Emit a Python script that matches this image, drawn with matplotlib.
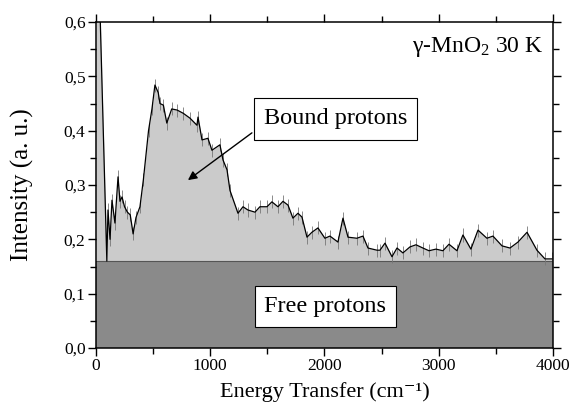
import numpy as np
import matplotlib
matplotlib.use("Agg")
import matplotlib.pyplot as plt
from matplotlib.ticker import MultipleLocator, FuncFormatter

# spectrum (energy in cm-1, intensity in a.u.)
energy = [0, 25, 95, 105, 123, 140, 166, 193, 210, 228, 250, 275, 300, 325, 350, 385, 415,
          460, 490, 516, 545, 560, 590, 620, 663, 710, 764, 823, 884, 893, 928, 980, 1015,
          1085, 1112, 1147, 1173, 1243, 1287, 1330, 1392, 1435, 1497, 1540, 1593, 1637,
          1681, 1724, 1768, 1803, 1847, 1890, 1943, 2004, 2048, 2118, 2162, 2206, 2284,
          2337, 2381, 2460, 2486, 2530, 2591, 2635, 2687, 2748, 2801, 2862, 2915, 2976,
          3037, 3090, 3160, 3212, 3282, 3344, 3422, 3475, 3554, 3624, 3694, 3773, 3860,
          3930, 3990]
intensity = [0.70, 0.70, 0.16, 0.254, 0.20, 0.272, 0.23, 0.315, 0.27, 0.278, 0.26, 0.25,
             0.245, 0.21, 0.24, 0.26, 0.31, 0.40, 0.44, 0.484, 0.47, 0.45, 0.447, 0.414,
             0.44, 0.438, 0.432, 0.423, 0.41, 0.425, 0.383, 0.386, 0.364, 0.374, 0.346,
             0.328, 0.29, 0.248, 0.26, 0.254, 0.25, 0.26, 0.26, 0.269, 0.26, 0.27, 0.263,
             0.239, 0.248, 0.241, 0.204, 0.213, 0.221, 0.202, 0.206, 0.195, 0.239, 0.204,
             0.202, 0.206, 0.184, 0.18, 0.18, 0.193, 0.168, 0.184, 0.175, 0.186, 0.19,
             0.184, 0.179, 0.182, 0.179, 0.191, 0.179, 0.208, 0.182, 0.217, 0.202, 0.206,
             0.188, 0.184, 0.195, 0.213, 0.18, 0.164, 0.164]
free_level = 0.16

plt.rcParams['font.family'] = ['Liberation Serif', 'DejaVu Serif']
plt.rcParams['mathtext.fontset'] = 'custom'
plt.rcParams['mathtext.rm'] = 'Liberation Serif'
plt.rcParams['mathtext.it'] = 'Liberation Serif:italic'
plt.rcParams['mathtext.default'] = 'regular'

fig = plt.figure(figsize=(5.73, 4.04), dpi=100)
ax = fig.add_axes([0.1675, 0.1386, 0.7975, 0.8069])

x = np.array(energy)
y = np.array(intensity)

# free protons: flat dark band
ax.fill_between([0, 4000], 0, free_level, color='#8a8a8a', zorder=1, lw=0)
ax.axhline(free_level, color='#555555', lw=0.8, zorder=2)
# bound protons: light area above the band
ax.fill_between(x, free_level, y, color='#cbcbcb', zorder=1, lw=0)
ax.errorbar(x[3:], y[3:], yerr=0.012, fmt='none', ecolor='#777777', elinewidth=0.6, zorder=2)
ax.plot(x, y, color='black', lw=0.9, zorder=3)

ax.set_xlim(0, 4000)
ax.set_ylim(0, 0.6)
ax.xaxis.set_major_locator(MultipleLocator(1000))
ax.xaxis.set_minor_locator(MultipleLocator(500))
ax.yaxis.set_major_locator(MultipleLocator(0.1))
ax.yaxis.set_minor_locator(MultipleLocator(0.05))
ax.yaxis.set_major_formatter(FuncFormatter(lambda v, p: f"{v:.1f}".replace('.', ',')))
ax.tick_params(which='both', direction='out', top=True, right=True, labelsize=12.5, width=1, pad=1.5)
ax.tick_params(which='major', length=6)
ax.tick_params(which='minor', length=4)
for s in ax.spines.values():
    s.set_linewidth(1.1)

ax.set_xlabel('Energy Transfer (cm\u207b\u00b9)', fontsize=16, va='baseline')
ax.xaxis.set_label_coords(0.5, -0.150)
ax.set_ylabel('Intensity (a. u.)', fontsize=18)
ax.yaxis.set_label_coords(-0.135, 0.5)

ax.text(3913, 0.554, '\u03b3-MnO$_2$ 30 K', ha='right', va='center', fontsize=17)

ax.text(2096, 0.4215, 'Bound protons', ha='center', va='center', fontsize=17.5,
        bbox=dict(boxstyle='square,pad=0.42', fc='white', ec='black', lw=0.8), zorder=5)
ax.annotate('', xy=(805, 0.309), xytext=(1365, 0.396),
            arrowprops=dict(arrowstyle='-|>', color='black', lw=1,
                            shrinkA=0, shrinkB=0, mutation_scale=13),
            zorder=5)

ax.text(2009, 0.076, 'Free protons', ha='center', va='center', fontsize=17.5,
        bbox=dict(boxstyle='square,pad=0.4', fc='white', ec='black', lw=0.8), zorder=5)

fig.savefig('out.png', dpi=100)
